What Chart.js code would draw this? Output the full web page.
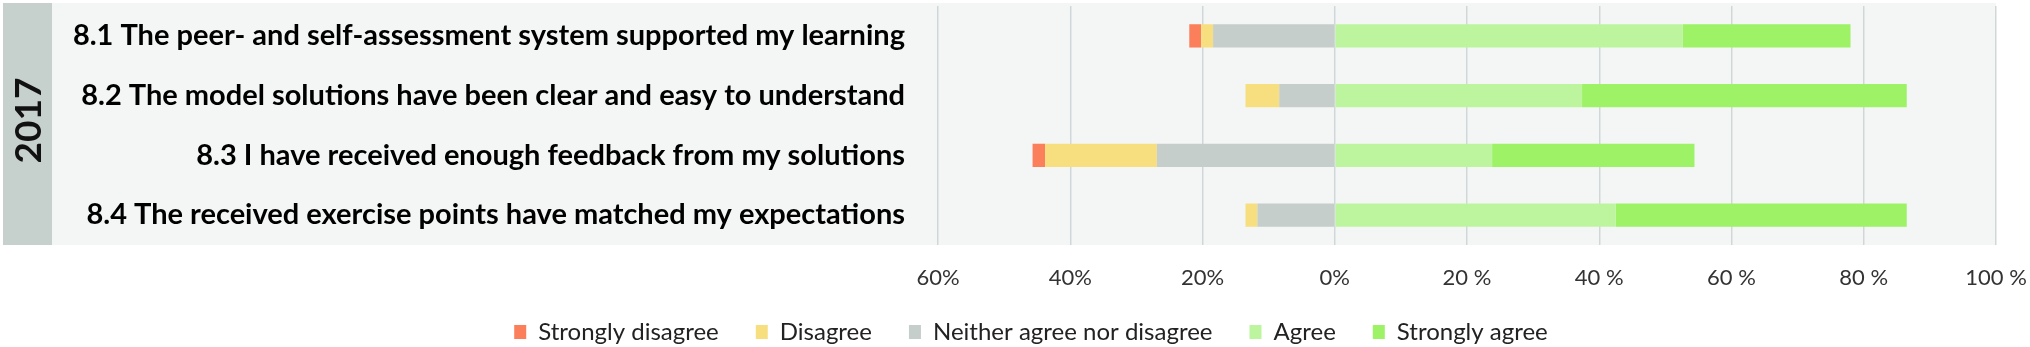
<!DOCTYPE html>
<html>
<head>
<meta charset="utf-8">
<script src="https://cdn.jsdelivr.net/npm/chart.js@4/dist/chart.umd.min.js"></script>
<style>
  body { margin: 0; background: #fff; }
  #wrap { width: 2030px; height: 347px; }
</style>
</head>
<body>
<div id="wrap"><canvas id="likertChart"></canvas></div>
<script>
// survey statements (2017)
const categories = [
    '8.1 The peer- and self-assessment system supported my learning',
    '8.2 The model solutions have been clear and easy to understand',
    '8.3 I have received enough feedback from my solutions',
    '8.4 The received exercise points have matched my expectations'
]
const year_label = '2017'

// share of answers, percent
const strongly_disagree = [1.8, 0, 1.9, 0]
const disagree = [1.8, 5.1, 16.9, 1.8]
const neither = [18.4, 8.4, 26.9, 11.7]
const agree = [52.6, 37.4, 23.8, 42.5]
const strongly_agree = [25.4, 49.1, 30.6, 44.0]

const tick_values = [-60, -40, -20, 0, 20, 40, 60, 80, 100]

const font_name = 'Lato, "Open Sans", sans-serif'

// negative side stacks outward: neither first, then disagree, then strongly disagree
function neg(arr) { return arr.map(v => -v) }

var datasets = [
    { label: 'Strongly disagree', data: neg(strongly_disagree), backgroundColor: '#fb7f5b', order: 3 },
    { label: 'Disagree', data: neg(disagree), backgroundColor: '#f7df80', order: 2 },
    { label: 'Neither agree nor disagree', data: neg(neither), backgroundColor: '#c5cecb', order: 1 },
    { label: 'Agree', data: agree, backgroundColor: '#bcf59e', order: 4 },
    { label: 'Strongly agree', data: strongly_agree, backgroundColor: '#9df265', order: 5 }
]
datasets.forEach(d => { d.borderWidth = 0; d.barPercentage = 0.39; d.categoryPercentage = 1 })

// panel behind the plot + the grey year strip
const panelPlugin = {
    id: 'panel',
    beforeDraw(chart) {
        const ctx = chart.ctx
        const a = chart.chartArea
        ctx.save()
        ctx.fillStyle = '#f4f6f6'
        ctx.fillRect(52, a.top - 3, a.right - 52, a.bottom - a.top + 3)
        ctx.fillStyle = '#c6d0cd'
        ctx.fillRect(3, a.top - 3, 49, a.bottom - a.top + 3)
        ctx.restore()
    },
    afterDraw(chart) {
        const ctx = chart.ctx
        const a = chart.chartArea
        ctx.save()
        ctx.translate(29, (a.top + a.bottom) / 2 - 5)
        ctx.rotate(-Math.PI / 2)
        ctx.fillStyle = '#111'
        ctx.font = 'bold 37px ' + font_name
        ctx.textAlign = 'center'
        ctx.textBaseline = 'middle'
        ctx.fillText(year_label, 0, 0)
        ctx.restore()
    }
}

var likert_chart = new Chart('likertChart', {
    type: 'bar',
    data: { labels: categories, datasets: datasets },
    plugins: [panelPlugin],
    options: {
        indexAxis: 'y',
        responsive: true,
        maintainAspectRatio: false,
        animation: false,
        layout: { padding: { top: 6, right: 34, left: 66, bottom: -7 } },
        scales: {
            x: {
                stacked: true,
                min: -60,
                max: 100,
                afterBuildTicks: (s) => { s.ticks = tick_values.map(v => ({ value: v })) },
                afterFit: (s) => {
                    s.height = 38
                    s.paddingLeft = 0
                    s.paddingRight = 0
                    s._computeLabelArea = () => undefined // don't clip labels to the short axis box
                },
                grid: { color: '#d0d7d9', lineWidth: 1.5, drawTicks: false },
                border: { display: false },
                ticks: {
                    padding: 20,
                    maxRotation: 0,
                    color: '#333',
                    font: { family: font_name, size: 22 },
                    callback: (v) => v === 0 ? '0%' : (v < 0 ? (-v) + '%' : v + ' %')
                }
            },
            y: {
                stacked: true,
                afterFit: (s) => { s.width = 872; s.paddingTop = 0; s.paddingBottom = 0 },
                grid: { display: false },
                border: { display: false },
                ticks: {
                    padding: 25,
                    color: '#000',
                    font: { family: font_name, size: 29, weight: 'bold' }
                }
            }
        },
        plugins: {
            tooltip: { enabled: false },
            legend: {
                position: 'bottom',
                labels: {
                    boxWidth: 12,
                    boxHeight: 14,
                    padding: 37,
                    color: '#222',
                    font: { family: font_name, size: 24 },
                    sort: (a, b) => a.datasetIndex - b.datasetIndex
                }
            }
        }
    }
});
</script>
</body>
</html>
